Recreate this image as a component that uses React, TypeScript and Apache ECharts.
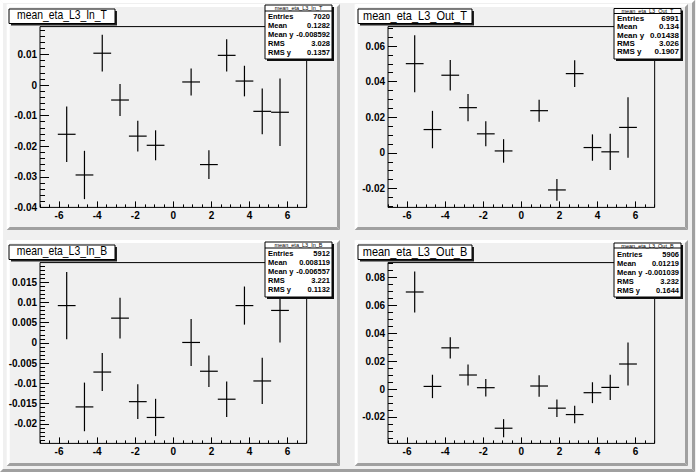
import React, { useEffect, useRef } from "react";
import * as echarts from "echarts";

// ---- data ----
const BIN_CENTERS = [-5.6, -4.667, -3.733, -2.8, -1.867, -0.933, 0.933, 1.867, 2.8, 3.733, 4.667, 5.6];
const BIN_WIDTH = 0.9333;

const IN_T_Y = [-0.0161, -0.0294, 0.0104, -0.0049, -0.0167, -0.0197, 0.001, -0.026, 0.0097, 0.0013, -0.0086, -0.0089];
const IN_T_ERR = [0.0091, 0.0079, 0.006, 0.0052, 0.005, 0.0049, 0.0044, 0.0047, 0.0053, 0.005, 0.0075, 0.011];

const OUT_T_Y = [0.0501, 0.0131, 0.0436, 0.0254, 0.0107, 0.0011, 0.0237, -0.0208, 0.0445, 0.003, 0.0006, 0.0143];
const OUT_T_ERR = [0.016, 0.0105, 0.0086, 0.0077, 0.007, 0.0066, 0.0062, 0.0061, 0.0075, 0.0074, 0.0102, 0.017];

const IN_B_Y = [0.0092, -0.0158, -0.0072, 0.0061, -0.0145, -0.0184, 0.0001, -0.007, -0.0139, 0.0092, -0.0094, 0.008];
const IN_B_ERR = [0.0083, 0.006, 0.0047, 0.005, 0.0043, 0.0046, 0.0058, 0.0039, 0.0044, 0.0047, 0.0057, 0.0079];

const OUT_B_Y = [0.0697, 0.0019, 0.0296, 0.0101, 0.001, -0.0281, 0.0022, -0.0137, -0.0183, -0.0026, 0.0012, 0.018];
const OUT_B_ERR = [0.0147, 0.0084, 0.0076, 0.0075, 0.0063, 0.0065, 0.0077, 0.0063, 0.0063, 0.0075, 0.009, 0.0154];

const X_MAJOR = [-6, -4, -2, 0, 2, 4, 6];
const IN_T_TICKS = [-0.04, -0.03, -0.02, -0.01, 0, 0.01];
const OUT_T_TICKS = [-0.02, 0, 0.02, 0.04, 0.06];
const IN_B_TICKS = [-0.02, -0.015, -0.01, -0.005, 0, 0.005, 0.01, 0.015];
const OUT_B_TICKS = [-0.02, 0, 0.02, 0.04, 0.06, 0.08];

const STAT_LABELS = ["Entries", "Mean", "Mean y", "RMS", "RMS y"];
const IN_T_STATS = ["7020", "0.1282", "-0.008592", "3.028", "0.1357"];
const OUT_T_STATS = ["6991", "0.134", "0.01438", "3.026", "0.1907"];
const IN_B_STATS = ["5912", "0.008119", "-0.006557", "3.221", "0.1132"];
const OUT_B_STATS = ["5906", "0.01219", "-0.001039", "3.232", "0.1644"];

// ---- layout ----
const FONT = '"Liberation Sans", Arial, Helvetica, sans-serif';
const BG = "#f0f0f0";
const DARK = "#a0a0a0";

const steps = (lo: number, hi: number, step: number) => {
  const out: number[] = [];
  const n = Math.round((hi - lo) / step);
  for (let i = 0; i <= n; i++) out.push(+(lo + i * step).toFixed(6));
  return out;
};

type Panel = {
  name: string;
  y: number[];
  err: number[];
  yMin: number;
  yMax: number;
  ticks: number[];
  minor: number[];
  stats: string[];
  pad: [number, number, number, number];
  title: { x0: number; y0: number; w: number; h: number; scale: number };
  box: { x0: number; y0: number; x1: number; y1: number; sep: number; head: number; rows: number[]; font: number };
};

const ROWS_A = [16.5, 25.5, 34.5, 43.5, 52.5];

const PANELS: Panel[] = [
  {
    name: "mean_eta_L3_In_T", y: IN_T_Y, err: IN_T_ERR, yMin: -0.04, yMax: 0.0191,
    ticks: IN_T_TICKS, minor: steps(-0.04, 0.018, 0.002), stats: IN_T_STATS,
    pad: [6.7, 4, 340, 230],
    title: { x0: 9, y0: 9, w: 106, h: 14.5, scale: 0.83 },
    box: { x0: 265, y0: 5, x1: 332, y1: 59, sep: 11, head: 8, rows: ROWS_A, font: 7.5 },
  },
  {
    name: "mean_eta_L3_Out_T", y: OUT_T_Y, err: OUT_T_ERR, yMin: -0.0306, yMax: 0.0709,
    ticks: OUT_T_TICKS, minor: steps(-0.03, 0.07, 0.005), stats: OUT_T_STATS,
    pad: [354.7, 4, 688, 230],
    title: { x0: 358, y0: 9, w: 114, h: 14.5, scale: 0.88 },
    box: { x0: 614, y0: 8.5, x1: 681, y1: 59, sep: 13.5, head: 11, rows: [18.3, 26.7, 35, 43.3, 51.7], font: 8 },
  },
  {
    name: "mean_eta_L3_In_B", y: IN_B_Y, err: IN_B_ERR, yMin: -0.0248, yMax: 0.0198,
    ticks: IN_B_TICKS, minor: steps(-0.024, 0.019, 0.001), stats: IN_B_STATS,
    pad: [6.7, 240, 340, 466],
    title: { x0: 9, y0: 245, w: 106, h: 14.5, scale: 0.83 },
    box: { x0: 265, y0: 242, x1: 332, y1: 297, sep: 248, head: 245, rows: ROWS_A.map((r) => r + 237), font: 7.5 },
  },
  {
    name: "mean_eta_L3_Out_B", y: OUT_B_Y, err: OUT_B_ERR, yMin: -0.039, yMax: 0.0908,
    ticks: OUT_B_TICKS, minor: steps(-0.035, 0.09, 0.005), stats: OUT_B_STATS,
    pad: [354.7, 240, 688, 466],
    title: { x0: 358, y0: 245, w: 114, h: 14.5, scale: 0.88 },
    box: { x0: 614, y0: 243, x1: 681, y1: 297, sep: 248, head: 245.5, rows: ROWS_A.map((r) => r + 237.5), font: 7.5 },
  },
];

const X_MINOR = steps(-7, 7, 0.5);

function bevel(x0: number, y0: number, x1: number, y1: number, bw: number) {
  return [
    { type: "polygon", shape: { points: [[x0, y0], [x1, y0], [x1 - bw, y0 + bw], [x0 + bw, y0 + bw]] }, style: { fill: "#ffffff" }, silent: true },
    { type: "polygon", shape: { points: [[x0, y0], [x0 + bw, y0 + bw], [x0 + bw, y1 - bw], [x0, y1]] }, style: { fill: "#ffffff" }, silent: true },
    { type: "polygon", shape: { points: [[x1, y0], [x1, y1], [x1 - bw, y1 - bw], [x1 - bw, y0 + bw]] }, style: { fill: DARK }, silent: true },
    { type: "polygon", shape: { points: [[x0, y1], [x1, y1], [x1 - bw, y1 - bw], [x0 + bw, y1 - bw]] }, style: { fill: DARK }, silent: true },
  ];
}

export default function App() {
  const ref = useRef<HTMLDivElement>(null);
  useEffect(() => {
    if (!ref.current) return;
    const chart = echarts.init(ref.current, undefined, { renderer: "svg" });

    const grids: any[] = [];
    const xAxes: any[] = [];
    const yAxes: any[] = [];
    const series: any[] = [];
    const graphics: any[] = [...bevel(0, 0, 695, 472, 3)];

    const labelStyle = { fontFamily: FONT, fontWeight: "bold", fontSize: 10, color: "#000" };

    PANELS.forEach((p, i) => {
      const [px0, py0, px1, py1] = p.pad;
      const w = px1 - px0;
      const h = py1 - py0;
      grids.push({
        left: px0 + 0.1 * w, top: py0 + 0.1 * h, width: 0.8 * w, height: 0.8 * h,
        show: true, borderColor: "#000", borderWidth: 1, backgroundColor: "transparent",
        containLabel: false, outerBoundsMode: "none",
      });
      const baseX = {
        type: "value", gridIndex: i, min: -7, max: 7, position: "bottom",
        axisLine: { show: false, onZero: false }, splitLine: { show: false },
      };
      xAxes.push({
        ...baseX,
        axisTick: { show: true, inside: true, length: 6, lineStyle: { color: "#000", width: 1 }, customValues: X_MAJOR },
        axisLabel: { show: true, margin: 3, ...labelStyle, customValues: X_MAJOR, formatter: (v: number) => String(v) },
      });
      xAxes.push({
        ...baseX,
        axisTick: { show: true, inside: true, length: 3, lineStyle: { color: "#000", width: 1 }, customValues: X_MINOR },
        axisLabel: { show: false },
      });
      const baseY = {
        type: "value", gridIndex: i, min: p.yMin, max: p.yMax, position: "left",
        axisLine: { show: false, onZero: false }, splitLine: { show: false },
      };
      yAxes.push({
        ...baseY,
        axisTick: { show: true, inside: true, length: 9, lineStyle: { color: "#000", width: 1 }, customValues: p.ticks },
        axisLabel: { show: true, margin: 3, ...labelStyle, customValues: p.ticks, formatter: (v: number) => String(v) },
      });
      yAxes.push({
        ...baseY,
        axisTick: { show: true, inside: true, length: 5, lineStyle: { color: "#000", width: 1 }, customValues: p.minor },
        axisLabel: { show: false },
      });

      series.push({
        type: "custom",
        xAxisIndex: 2 * i,
        yAxisIndex: 2 * i,
        data: BIN_CENTERS.map((x, k) => [x, p.y[k], p.err[k]]),
        renderItem: (_params: any, api: any) => {
          const x = api.value(0);
          const y = api.value(1);
          const e = api.value(2);
          const l = api.coord([x - BIN_WIDTH / 2, y]);
          const r = api.coord([x + BIN_WIDTH / 2, y]);
          const t = api.coord([x, y + e]);
          const b = api.coord([x, y - e]);
          const st = { stroke: "#000", lineWidth: 1.2 };
          return {
            type: "group",
            children: [
              { type: "line", shape: { x1: l[0], y1: l[1], x2: r[0], y2: r[1] }, style: st },
              { type: "line", shape: { x1: t[0], y1: t[1], x2: b[0], y2: b[1] }, style: st },
            ],
          };
        },
      });

      // pad bevel
      graphics.push(...bevel(px0, py0, px1, py1, 3));

      // title box
      const tb = p.title;
      graphics.push({ type: "rect", z: 100, shape: { x: tb.x0 + 2, y: tb.y0 + 2, width: tb.w, height: tb.h }, style: { fill: "#222" }, silent: true });
      graphics.push({ type: "rect", z: 101, shape: { x: tb.x0, y: tb.y0, width: tb.w, height: tb.h }, style: { fill: "#fff", stroke: "#000", lineWidth: 1 }, silent: true });
      graphics.push({
        type: "text", z: 102, x: tb.x0 + tb.w / 2, y: tb.y0 + tb.h / 2 - 1.2, scaleX: tb.scale, silent: true,
        style: { text: p.name, x: 0, y: 0, font: `12.5px ${FONT}`, fill: "#000", textAlign: "center", textVerticalAlign: "middle" },
      });

      // stats box
      const bx = p.box;
      graphics.push({ type: "rect", z: 100, shape: { x: bx.x0 + 2, y: bx.y0 + 2, width: bx.x1 - bx.x0, height: bx.y1 - bx.y0 }, style: { fill: "#111" }, silent: true });
      graphics.push({ type: "rect", z: 101, shape: { x: bx.x0, y: bx.y0, width: bx.x1 - bx.x0, height: bx.y1 - bx.y0 }, style: { fill: "#fff", stroke: "#000", lineWidth: 1 }, silent: true });
      graphics.push({ type: "line", z: 102, shape: { x1: bx.x0, y1: bx.sep, x2: bx.x1, y2: bx.sep }, style: { stroke: "#000", lineWidth: 1 }, silent: true });
      graphics.push({
        type: "text", z: 102, silent: true,
        style: { text: p.name, x: (bx.x0 + bx.x1) / 2, y: bx.head, font: `5.5px ${FONT}`, fill: "#000", textAlign: "center", textVerticalAlign: "middle" },
      });
      STAT_LABELS.forEach((lab, k) => {
        graphics.push({
          type: "text", z: 102, silent: true,
          style: { text: lab, x: bx.x0 + 3, y: bx.rows[k], font: `bold ${bx.font}px ${FONT}`, fill: "#000", textAlign: "left", textVerticalAlign: "middle" },
        });
        graphics.push({
          type: "text", z: 102, silent: true,
          style: { text: p.stats[k], x: bx.x1 - 2, y: bx.rows[k], font: `bold ${bx.font}px ${FONT}`, fill: "#000", textAlign: "right", textVerticalAlign: "middle" },
        });
      });
    });

    chart.setOption({
      animation: false,
      backgroundColor: BG,
      grid: grids,
      xAxis: xAxes,
      yAxis: yAxes,
      series,
      graphic: { elements: graphics },
    });
    return () => chart.dispose();
  }, []);

  return <div ref={ref} style={{ position: "absolute", left: 0, top: 0, width: 696, height: 472 }} />;
}
